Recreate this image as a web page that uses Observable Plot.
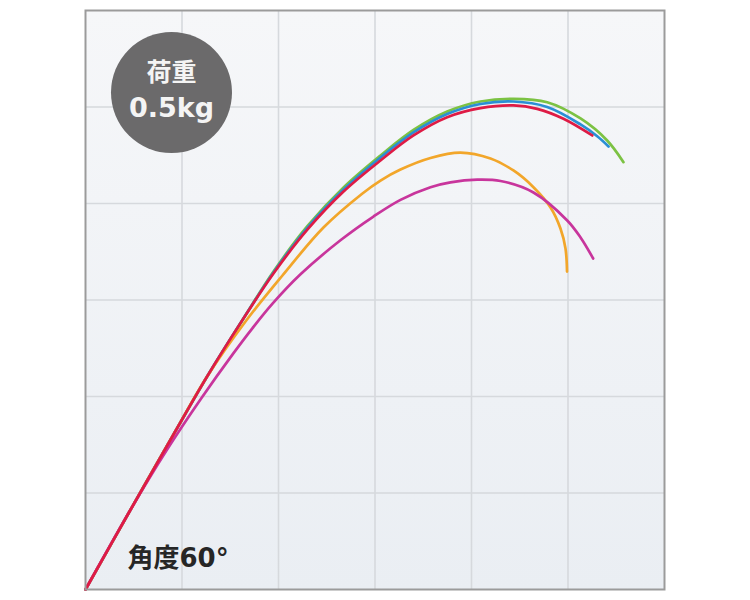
<!DOCTYPE html>
<html>
<head>
<meta charset="utf-8">
<script src="https://cdn.jsdelivr.net/npm/d3@7"></script>
<script src="https://cdn.jsdelivr.net/npm/@observablehq/plot@0.6"></script>
<style>
  html, body { margin: 0; padding: 0; background: #ffffff; }
  #chart { width: 750px; height: 600px; }
</style>
</head>
<body>
<div id="chart"></div>
<script>
// Grid: 6 x 6 cells, values in grid-cell units
const gridTicks = [1, 2, 3, 4, 5];
const domainMax = 6;

// Series (rod bending curves) in grid-cell units
const greenX = [0, 0.456, 0.912, 1.254, 1.617, 1.948, 2.301, 2.674, 3.057, 3.399, 3.748, 4.093, 4.435, 4.784, 5.130, 5.406, 5.575];
const greenY = [0, 0.808, 1.606, 2.197, 2.777, 3.295, 3.767, 4.166, 4.497, 4.762, 4.953, 5.057, 5.085, 5.050, 4.881, 4.653, 4.428];

const blueX = [0, 0.456, 0.912, 1.254, 1.617, 1.948, 2.301, 2.674, 3.057, 3.399, 3.748, 4.093, 4.435, 4.784, 5.130, 5.306, 5.420];
const blueY = [0, 0.808, 1.606, 2.197, 2.777, 3.285, 3.751, 4.145, 4.477, 4.736, 4.927, 5.031, 5.057, 5.000, 4.819, 4.694, 4.591];

const redX = [0, 0.456, 0.912, 1.254, 1.617, 1.948, 2.301, 2.674, 3.057, 3.399, 3.748, 4.093, 4.435, 4.681, 4.953, 5.251];
const redY = [0, 0.808, 1.606, 2.197, 2.777, 3.275, 3.731, 4.124, 4.446, 4.705, 4.894, 4.988, 5.016, 4.981, 4.878, 4.705];

const orangeX = [0, 0.456, 0.912, 1.254, 1.658, 2.041, 2.466, 2.870, 3.057, 3.264, 3.575, 3.886, 4.197, 4.435, 4.642, 4.819, 4.922, 4.974, 4.990];
const orangeY = [0, 0.808, 1.606, 2.197, 2.777, 3.254, 3.751, 4.104, 4.238, 4.352, 4.472, 4.528, 4.466, 4.342, 4.169, 3.959, 3.741, 3.534, 3.295];

const magentaX = [0, 0.456, 0.839, 1.202, 1.534, 1.731, 1.938, 2.228, 2.642, 2.984, 3.264, 3.575, 3.782, 4.059, 4.301, 4.642, 4.992, 5.130, 5.261];
const magentaY = [0, 0.808, 1.440, 1.984, 2.449, 2.709, 2.962, 3.266, 3.619, 3.865, 4.038, 4.169, 4.219, 4.247, 4.233, 4.114, 3.824, 3.648, 3.430];

// drawing order: first is at the back
const seriesNames = ["S-green", "S-blue", "S-orange", "S-magenta", "S-red"];
const seriesColors = ["#7cc243", "#2a8fd4", "#f2a62a", "#c8359c", "#de1b45"];

// Texts
const loadLabel = ["荷重"];
const loadValue = ["0.5kg"];
const angleLabel = ["角度60°"];

const seriesXY = {
  "S-green": [greenX, greenY],
  "S-blue": [blueX, blueY],
  "S-orange": [orangeX, orangeY],
  "S-magenta": [magentaX, magentaY],
  "S-red": [redX, redY]
};
const rows = [];
for (const name of seriesNames) {
  const [xs, ys] = seriesXY[name];
  xs.forEach((x, i) => rows.push({series: name, x, y: ys[i]}));
}

const plot = Plot.plot({
  width: 750,
  height: 600,
  marginLeft: 85,
  marginRight: 86,
  marginTop: 10,
  marginBottom: 11,
  x: {domain: [0, domainMax], axis: null},
  y: {domain: [0, domainMax], axis: null},
  color: {type: "ordinal", domain: seriesNames, range: seriesColors},
  marks: [
    Plot.frame({fill: "url(#bgGrad)", stroke: "none"}),
    Plot.gridX(gridTicks, {stroke: "#d6d9dd", strokeOpacity: 1, strokeWidth: 1.6}),
    Plot.gridY(gridTicks, {stroke: "#d6d9dd", strokeOpacity: 1, strokeWidth: 1.6}),
    Plot.line(rows, {x: "x", y: "y", z: "series", stroke: "series", strokeWidth: 2.7, curve: "catmull-rom"}),
    Plot.dot([0], {frameAnchor: "top-left", dx: 86, dy: 82, r: 60.5, fill: "#6b6a6b", stroke: "none"}),
    Plot.text(loadLabel, {frameAnchor: "top-left", dx: 86, dy: 62, fill: "#f4f4f4", fontSize: 25, fontWeight: "bold", fontFamily: "'Noto Sans CJK JP', sans-serif", textAnchor: "middle", lineAnchor: "middle"}),
    Plot.text(loadValue, {frameAnchor: "top-left", dx: 86, dy: 98, fill: "#f4f4f4", fontSize: 27, fontWeight: "bold", fontFamily: "'DejaVu Sans', 'Noto Sans CJK JP', sans-serif", textAnchor: "middle", lineAnchor: "middle"}),
    Plot.text(angleLabel, {frameAnchor: "top-left", dx: 42, dy: 548, fill: "#262626", fontSize: 26, fontWeight: "bold", fontFamily: "'DejaVu Sans', 'Noto Sans CJK JP', sans-serif", textAnchor: "start", lineAnchor: "middle"}),
    Plot.frame({stroke: "#9b9b9b", strokeWidth: 2, fill: "none"})
  ]
});

// gradient background for the plot frame
const ns = "http://www.w3.org/2000/svg";
const defs = document.createElementNS(ns, "defs");
const grad = document.createElementNS(ns, "linearGradient");
grad.setAttribute("id", "bgGrad");
grad.setAttribute("x1", "0"); grad.setAttribute("y1", "0");
grad.setAttribute("x2", "0"); grad.setAttribute("y2", "1");
[["0", "#f6f7f9"], ["1", "#eaeef3"]].forEach(([o, c]) => {
  const s = document.createElementNS(ns, "stop");
  s.setAttribute("offset", o);
  s.setAttribute("stop-color", c);
  grad.appendChild(s);
});
defs.appendChild(grad);
plot.insertBefore(defs, plot.firstChild);

document.getElementById("chart").appendChild(plot);
</script>
</body>
</html>
